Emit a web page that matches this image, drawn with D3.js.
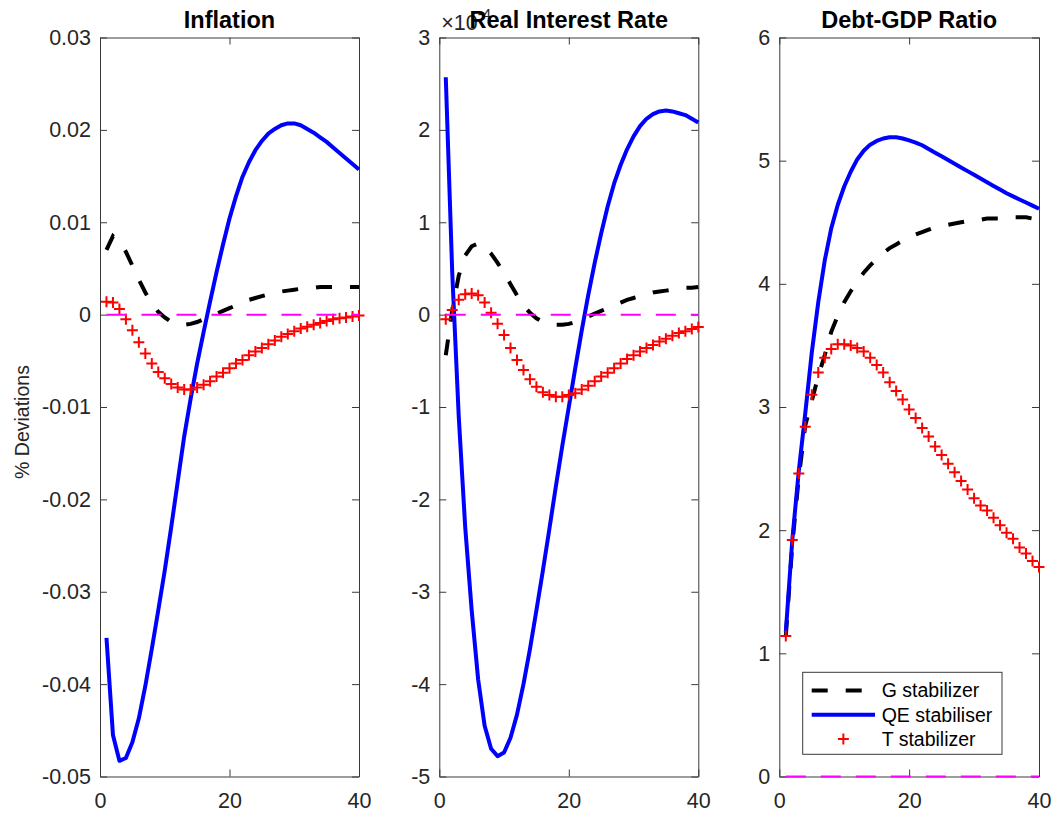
<!DOCTYPE html>
<html>
<head>
<meta charset="utf-8">
<script src="https://cdn.jsdelivr.net/npm/d3@7"></script>
<style>
  html, body { margin: 0; padding: 0; background: #ffffff; }
  svg { display: block; font-family: "Liberation Sans", Arial, Helvetica, sans-serif; }
</style>
</head>
<body>
<svg id="chart" width="1052" height="814"></svg>
<script>
// Impulse responses over a 40-quarter horizon, three fiscal/monetary stabilisers.
const horizon = d3.range(1, 41);

// Inflation (% deviations)
const inflationG = [0.0070, 0.0085, 0.0078, 0.0068, 0.0053, 0.0038, 0.0024, 0.0012, 0.0003, -0.0003,
  -0.0008, -0.0010, -0.0011, -0.0010, -0.0008, -0.0005, -0.0002, 0.0001, 0.0004, 0.0007,
  0.0010, 0.0013, 0.0016, 0.0018, 0.0020, 0.0022, 0.0024, 0.0025, 0.0026, 0.0027,
  0.0028, 0.0029, 0.0029, 0.0030, 0.0030, 0.0030, 0.0030, 0.0030, 0.0030, 0.0030];
const inflationQE = [-0.0350, -0.0455, -0.0483, -0.0480, -0.0463, -0.0437, -0.0402, -0.0362, -0.0320, -0.0277,
  -0.0230, -0.0181, -0.0132, -0.0091, -0.0053, -0.0019, 0.0014, 0.0046, 0.0076, 0.0104,
  0.0128, 0.0149, 0.0165, 0.0178, 0.0188, 0.0196, 0.0201, 0.0205, 0.0207, 0.0207,
  0.0205, 0.0201, 0.0197, 0.0192, 0.0187, 0.0181, 0.0175, 0.0169, 0.0163, 0.0157];
const inflationT = [0.0014, 0.0013, 0.0006, -0.0005, -0.0017, -0.0030, -0.0042, -0.0053, -0.0062, -0.0069,
  -0.0075, -0.0079, -0.0081, -0.0081, -0.0079, -0.0076, -0.0072, -0.0067, -0.0063, -0.0058,
  -0.0053, -0.0049, -0.0044, -0.0040, -0.0036, -0.0032, -0.0028, -0.0024, -0.0021, -0.0018,
  -0.0015, -0.0013, -0.0011, -0.0009, -0.0007, -0.0005, -0.0004, -0.0003, -0.0002, -0.0001];

// Real interest rate (% deviations, in units of 10^-4)
const rateG = [-0.44, 0.05, 0.42, 0.64, 0.74, 0.77, 0.74, 0.66, 0.56, 0.45,
  0.33, 0.21, 0.10, 0.02, -0.04, -0.08, -0.10, -0.11, -0.11, -0.10,
  -0.08, -0.05, -0.02, 0.01, 0.04, 0.07, 0.10, 0.13, 0.16, 0.18,
  0.20, 0.22, 0.24, 0.25, 0.26, 0.27, 0.28, 0.29, 0.29, 0.30];
const rateQE = [2.57, 0.45, -1.10, -2.30, -3.20, -3.95, -4.45, -4.70, -4.78, -4.74,
  -4.58, -4.33, -4.00, -3.62, -3.20, -2.77, -2.32, -1.86, -1.42, -1.00,
  -0.58, -0.17, 0.21, 0.56, 0.88, 1.17, 1.42, 1.62, 1.79, 1.93,
  2.04, 2.12, 2.17, 2.20, 2.21, 2.20, 2.18, 2.16, 2.12, 2.08];
const rateT = [-0.05, 0.05, 0.16, 0.22, 0.23, 0.21, 0.13, 0.02, -0.10, -0.22,
  -0.36, -0.49, -0.60, -0.70, -0.78, -0.84, -0.87, -0.89, -0.89, -0.87,
  -0.85, -0.81, -0.77, -0.72, -0.67, -0.63, -0.58, -0.53, -0.48, -0.44,
  -0.40, -0.36, -0.33, -0.29, -0.26, -0.23, -0.20, -0.18, -0.155, -0.135];

// Debt-GDP ratio (% deviations)
const debtG = [1.14, 1.88, 2.43, 2.85, 3.05, 3.25, 3.42, 3.61, 3.74, 3.85,
  3.94, 4.02, 4.09, 4.15, 4.20, 4.25, 4.29, 4.32, 4.35, 4.38,
  4.40, 4.42, 4.44, 4.46, 4.47, 4.48, 4.49, 4.50, 4.51, 4.52,
  4.52, 4.53, 4.53, 4.53, 4.54, 4.54, 4.54, 4.54, 4.53, 4.53];
const debtQE = [1.17, 1.92, 2.48, 2.95, 3.44, 3.85, 4.19, 4.45, 4.64, 4.79,
  4.91, 5.01, 5.08, 5.13, 5.16, 5.18, 5.19, 5.19, 5.18, 5.165,
  5.147, 5.125, 5.095, 5.065, 5.035, 5.005, 4.975, 4.945, 4.915, 4.885,
  4.855, 4.825, 4.795, 4.765, 4.735, 4.71, 4.685, 4.66, 4.635, 4.61];
const debtT = [1.14, 1.92, 2.46, 2.84, 3.10, 3.28, 3.40, 3.47, 3.51, 3.51,
  3.50, 3.48, 3.45, 3.40, 3.34, 3.28, 3.20, 3.13, 3.06, 2.98,
  2.91, 2.83, 2.76, 2.68, 2.61, 2.54, 2.47, 2.40, 2.33, 2.26,
  2.20, 2.16, 2.10, 2.04, 1.98, 1.93, 1.86, 1.81, 1.75, 1.70];

// Axis ticks and their labels
const xTicks = [0, 20, 40];
const xTickLabels = ["0", "20", "40"];
const inflationTicks = [0.03, 0.02, 0.01, 0, -0.01, -0.02, -0.03, -0.04, -0.05];
const inflationTickLabels = ["0.03", "0.02", "0.01", "0", "-0.01", "-0.02", "-0.03", "-0.04", "-0.05"];
const rateTicks = [3, 2, 1, 0, -1, -2, -3, -4, -5];
const rateTickLabels = ["3", "2", "1", "0", "-1", "-2", "-3", "-4", "-5"];
const debtTicks = [6, 5, 4, 3, 2, 1, 0];
const debtTickLabels = ["6", "5", "4", "3", "2", "1", "0"];

const seriesNames = ["G stabilizer", "QE stabiliser", "T stabilizer"];
const titles = ["Inflation", "Real Interest Rate", "Debt-GDP Ratio"];

const C = {
  g: "#000000", qe: "#0000ff", t: "#ff0000", zero: "#ff00ff",
  axis: "#3a3a3a", text: "#262626"
};

const svg = d3.select("#chart");
const plotTop = 37.5, plotBottom = 776.5;

const panels = [
  { title: titles[0], left: 100, right: 359, domain: [-0.05, 0.03],
    ticks: inflationTicks, labels: inflationTickLabels, g: inflationG, qe: inflationQE, t: inflationT },
  { title: titles[1], left: 439.3, right: 698.3, domain: [-5, 3],
    ticks: rateTicks, labels: rateTickLabels, g: rateG, qe: rateQE, t: rateT, exponent: "-4" },
  { title: titles[2], left: 779.3, right: 1039, domain: [0, 6],
    ticks: debtTicks, labels: debtTickLabels, g: debtG, qe: debtQE, t: debtT, legend: true }
];

const plusPath = "M-5.5,0H5.5M0,-5.5V5.5";

panels.forEach(p => {
  const x = d3.scaleLinear().domain([0, 40]).range([p.left, p.right]);
  const y = d3.scaleLinear().domain(p.domain).range([plotBottom, plotTop]);
  const g = svg.append("g");

  // inward ticks on all four sides
  const styleAxis = sel => {
    sel.attr("font-family", null).attr("font-size", null);
    sel.selectAll("path.domain").attr("stroke", C.axis).attr("stroke-width", 1);
    sel.selectAll(".tick line").attr("stroke", C.axis).attr("stroke-width", 1);
    sel.selectAll(".tick text").attr("fill", C.text).attr("font-size", "21.5px");
  };
  const yLabel = d => p.labels[p.ticks.indexOf(d)];
  const xLabel = d => xTickLabels[xTicks.indexOf(d)];

  g.append("g").attr("transform", `translate(${p.left},0)`)
    .call(d3.axisLeft(y).tickValues(p.ticks).tickFormat(yLabel).tickSizeInner(-7).tickSizeOuter(0).tickPadding(9))
    .call(styleAxis);
  g.append("g").attr("transform", `translate(${p.right},0)`)
    .call(d3.axisRight(y).tickValues(p.ticks).tickFormat("").tickSizeInner(-7).tickSizeOuter(0))
    .call(styleAxis);
  g.append("g").attr("transform", `translate(0,${plotBottom})`)
    .call(d3.axisBottom(x).tickValues(xTicks).tickFormat(xLabel).tickSizeInner(-7).tickSizeOuter(0).tickPadding(16))
    .call(styleAxis);
  g.append("g").attr("transform", `translate(0,${plotTop})`)
    .call(d3.axisTop(x).tickValues(xTicks).tickFormat("").tickSizeInner(-7).tickSizeOuter(0))
    .call(styleAxis);

  const line = d3.line().x((d, i) => x(horizon[i])).y(d => y(d));

  g.append("path").datum(p.g).attr("d", line)
    .attr("fill", "none").attr("stroke", C.g).attr("stroke-width", 4)
    .attr("stroke-dasharray", "16,18");
  g.append("path").datum(p.qe).attr("d", line)
    .attr("fill", "none").attr("stroke", C.qe).attr("stroke-width", 4)
    .attr("stroke-linejoin", "round");
  g.selectAll("path.tmark").data(p.t).join("path").attr("class", "tmark")
    .attr("d", plusPath)
    .attr("transform", (d, i) => `translate(${x(horizon[i])},${y(d)})`)
    .attr("fill", "none").attr("stroke", C.t).attr("stroke-width", 2);

  // zero reference
  g.append("line")
    .attr("x1", x(horizon[0])).attr("x2", x(horizon[horizon.length - 1]))
    .attr("y1", y(0)).attr("y2", y(0))
    .attr("stroke", C.zero).attr("stroke-width", 2).attr("stroke-dasharray", "20,15");

  // axis exponent, partly under the panel title
  if (p.exponent) {
    const ex = g.append("text").attr("x", p.left + 2).attr("y", 30)
      .attr("fill", C.text).attr("font-size", "21.5px");
    ex.append("tspan").text("×10");
    ex.append("tspan").attr("font-size", "15px").attr("dy", -11).text(p.exponent);
  }

  g.append("text").attr("x", (p.left + p.right) / 2).attr("y", 28)
    .attr("text-anchor", "middle").attr("font-weight", "bold").attr("font-size", "23.5px")
    .attr("fill", "#000").text(p.title);

  if (p.legend) {
    const lg = svg.append("g");
    lg.append("rect").attr("x", 802.7).attr("y", 672.3).attr("width", 199.3).attr("height", 82)
      .attr("fill", "#fff").attr("stroke", C.axis).attr("stroke-width", 1);
    const rows = [690.5, 714.8, 739];
    const x0 = 811.7, x1 = 875;
    lg.append("line").attr("x1", x0).attr("x2", x1).attr("y1", rows[0]).attr("y2", rows[0])
      .attr("stroke", C.g).attr("stroke-width", 4).attr("stroke-dasharray", "16,18");
    lg.append("line").attr("x1", x0).attr("x2", x1).attr("y1", rows[1]).attr("y2", rows[1])
      .attr("stroke", C.qe).attr("stroke-width", 4);
    lg.append("path").attr("d", plusPath).attr("transform", `translate(${(x0 + x1) / 2},${rows[2]})`)
      .attr("fill", "none").attr("stroke", C.t).attr("stroke-width", 2);
    seriesNames.forEach((name, i) => {
      lg.append("text").attr("x", 881.7).attr("y", rows[i]).attr("dy", "0.35em")
        .attr("font-size", "19.5px").attr("fill", "#000").text(name);
    });
  }
});

// shared y-axis label
svg.append("text")
  .attr("transform", "translate(29,422) rotate(-90)")
  .attr("text-anchor", "middle").attr("font-size", "19.5px").attr("fill", C.text)
  .text("% Deviations");
</script>
</body>
</html>
